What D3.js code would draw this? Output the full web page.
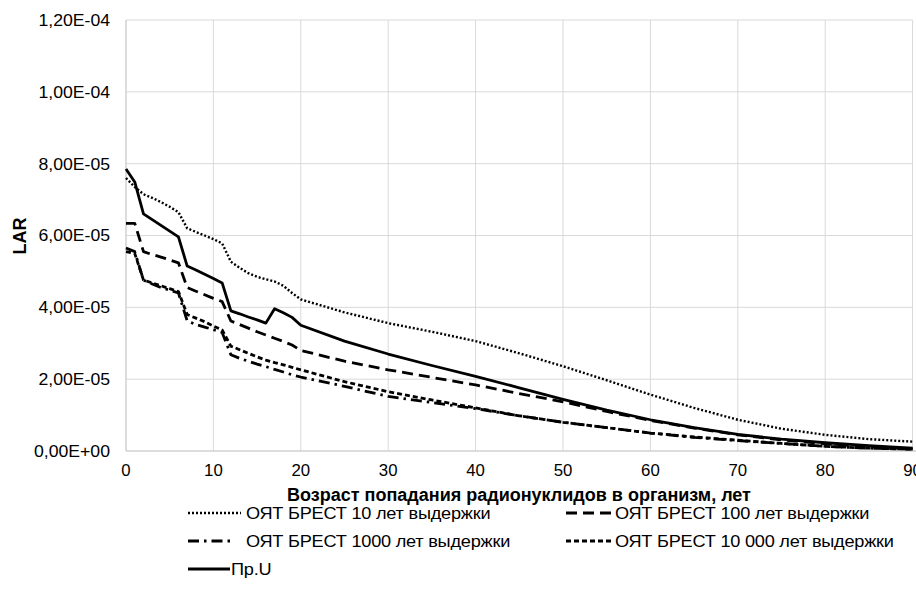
<!DOCTYPE html>
<html><head><meta charset="utf-8">
<script src="https://cdn.jsdelivr.net/npm/d3@7"></script>
<style>
body{margin:0;background:#fff;}
text{font-family:"Liberation Sans",Arial,sans-serif;fill:#000;}
</style></head><body>
<svg id="c" width="916" height="602"></svg>
<script>
const ages = [0,1,2,3,4,5,6,7,8,9,10,11,12,13,14,15,16,17,18,19,20,25,30,35,40,45,50,55,60,65,70,75,80,85,90];
// values in units of 1e-5
const brest10 = [7.6,7.35,7.15,7.05,6.93,6.8,6.65,6.2,6.1,6.0,5.9,5.78,5.27,5.1,4.95,4.85,4.78,4.72,4.6,4.4,4.22,3.86,3.56,3.32,3.06,2.72,2.36,1.97,1.57,1.2,0.87,0.62,0.45,0.33,0.26];
const brest100 = [6.34,6.34,5.55,5.47,5.4,5.32,5.24,4.55,4.45,4.35,4.25,4.16,3.62,3.52,3.42,3.32,3.23,3.14,3.05,2.95,2.8,2.5,2.26,2.05,1.84,1.6,1.37,1.1,0.85,0.64,0.45,0.31,0.2,0.12,0.06];
const brest1000 = [5.65,5.55,4.76,4.65,4.55,4.48,4.4,3.62,3.52,3.45,3.38,3.3,2.68,2.58,2.5,2.42,2.35,2.27,2.2,2.12,2.06,1.8,1.52,1.35,1.18,0.98,0.8,0.65,0.5,0.38,0.29,0.21,0.13,0.08,0.05];
const brest10000 = [5.55,5.5,4.76,4.68,4.6,4.52,4.44,3.8,3.7,3.6,3.48,3.37,2.92,2.82,2.72,2.62,2.53,2.46,2.4,2.33,2.26,1.93,1.65,1.42,1.2,0.98,0.8,0.65,0.5,0.39,0.3,0.21,0.13,0.08,0.05];
const prU = [7.85,7.49,6.6,6.44,6.28,6.12,5.96,5.15,5.04,4.92,4.8,4.68,3.9,3.82,3.73,3.65,3.56,3.96,3.85,3.72,3.5,3.06,2.7,2.38,2.08,1.76,1.44,1.14,0.87,0.65,0.46,0.33,0.23,0.15,0.08];
const seriesNames = ["ОЯТ БРЕСТ 10 лет выдержки","ОЯТ БРЕСТ 100 лет выдержки","ОЯТ БРЕСТ 1000 лет выдержки","ОЯТ БРЕСТ 10 000 лет выдержки","Пр.U"];
const xTicks = [0,10,20,30,40,50,60,70,80,90];
const yTicks = [0,2e-5,4e-5,6e-5,8e-5,1e-4,1.2e-4];
const yTickLabels = ["0,00E+00","2,00E-05","4,00E-05","6,00E-05","8,00E-05","1,00E-04","1,20E-04"];

const svg = d3.select("#c");
const L=126, R=912.6, T=20, B=451;
const x = d3.scaleLinear().domain([0,90]).range([L,R]);
const y = d3.scaleLinear().domain([0,1.2e-4]).range([B,T]);

// gridlines
const g = svg.append("g");
g.selectAll("line.h").data(yTicks.slice(1)).join("line")
  .attr("x1",L).attr("x2",R).attr("y1",d=>y(d)).attr("y2",d=>y(d))
  .attr("stroke","#d9d9d9").attr("stroke-width",1);
g.selectAll("line.v").data(xTicks.slice(1)).join("line")
  .attr("x1",d=>x(d)).attr("x2",d=>x(d)).attr("y1",T).attr("y2",B)
  .attr("stroke","#d9d9d9").attr("stroke-width",1);
// axes lines
svg.append("line").attr("x1",L).attr("x2",L).attr("y1",T).attr("y2",B).attr("stroke","#d0d0d0").attr("stroke-width",1.5);
svg.append("line").attr("x1",L).attr("x2",R+4).attr("y1",B).attr("y2",B).attr("stroke","#d0d0d0").attr("stroke-width",1.5);

// tick labels
svg.selectAll("text.yt").data(yTicks).join("text")
  .attr("transform",d=>`translate(110,${y(d)}) scale(1.05,1)`).attr("dy","0.35em").attr("text-anchor","end")
  .attr("font-size",16.8).text((d,i)=>yTickLabels[i]);
svg.selectAll("text.xt").data(xTicks).join("text")
  .attr("x",d=>x(d)).attr("y",B+25).attr("text-anchor","middle")
  .attr("font-size",16.8).text(d=>d);

// axis titles
svg.append("text").attr("x",519).attr("y",501).attr("text-anchor","middle")
  .attr("font-size",18).attr("font-weight","bold").text("Возраст попадания радионуклидов в организм, лет");
svg.append("text").attr("transform","translate(26,236) rotate(-90)").attr("text-anchor","middle")
  .attr("font-size",18).attr("font-weight","bold").text("LAR");

const styles = [
  {dash:"2,2", w:2.4},
  {dash:"11,6", w:2.8},
  {dash:"11,5,2.5,5", w:2.8},
  {dash:"5,3", w:2.8},
  {dash:null, w:2.8}
];
const data = [brest10,brest100,brest1000,brest10000,prU];
const line = d3.line().x((d,i)=>x(ages[i])).y(d=>y(d*1e-5));
const plot = svg.append("g");
data.forEach((s,k)=>{
  plot.append("path").datum(s).attr("d",line).attr("fill","none")
    .attr("stroke","#000").attr("stroke-width",styles[k].w)
    .attr("stroke-dasharray",styles[k].dash).attr("stroke-linejoin","round");
});

// legend
const leg = [
  {x:188, y:513, len:53, tx:246},
  {x:566, y:513, len:47, tx:615},
  {x:188, y:541, len:44, tx:246},
  {x:566, y:541, len:47, tx:615},
  {x:188, y:569, len:42, tx:231}
];
leg.forEach((p,k)=>{
  svg.append("line").attr("x1",p.x).attr("x2",p.x+p.len).attr("y1",p.y).attr("y2",p.y)
    .attr("stroke","#000").attr("stroke-width",styles[k].w).attr("stroke-dasharray",styles[k].dash);
  svg.append("text").attr("transform",`translate(${p.tx},${p.y}) scale(1.1,1)`).attr("dy","0.35em").attr("font-size",16.5)
    .attr("letter-spacing",-0.2).text(seriesNames[k]);
});
</script></body></html>
